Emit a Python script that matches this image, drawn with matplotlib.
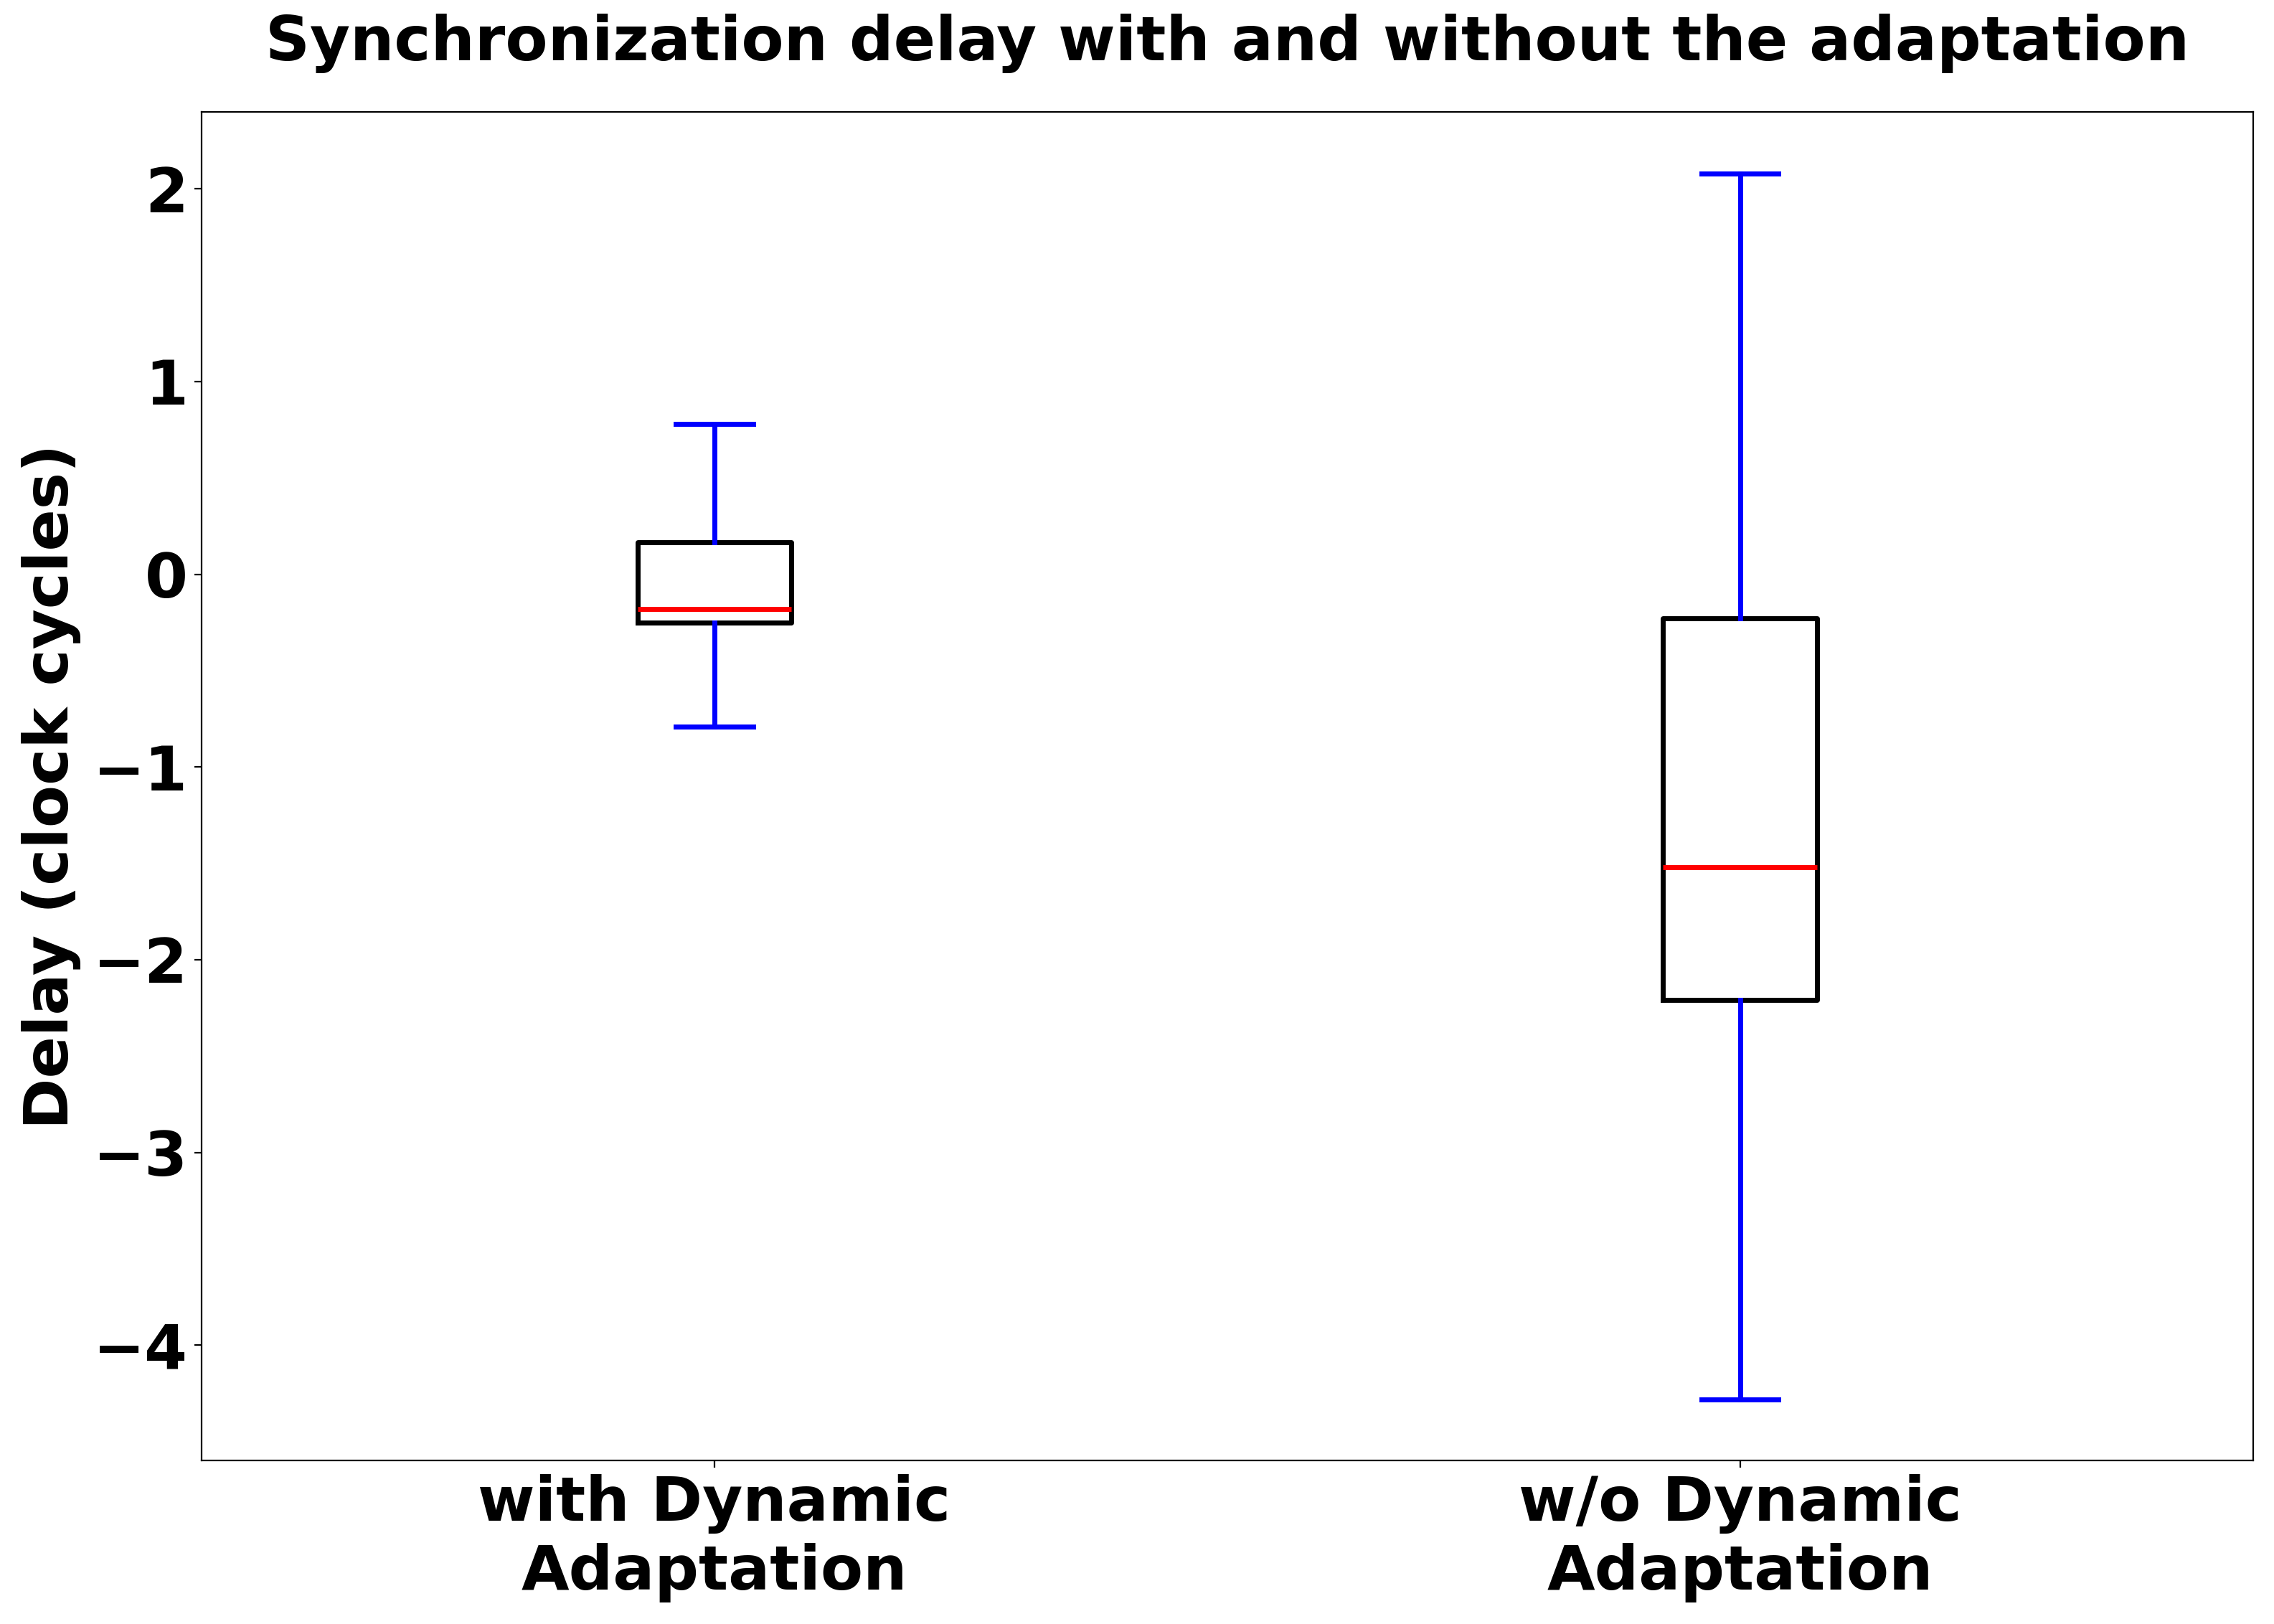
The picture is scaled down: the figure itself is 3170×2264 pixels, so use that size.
import matplotlib
matplotlib.use('Agg')
import matplotlib.pyplot as plt

# box statistics (clock cycles)
labels = ['with Dynamic\nAdaptation', 'w/o Dynamic\nAdaptation']
whislo = [-0.79, -4.28]
q1 = [-0.25, -2.21]
med = [-0.18, -1.52]
q3 = [0.165, -0.23]
whishi = [0.78, 2.08]

stats = []
for i in range(len(labels)):
    stats.append({'label': labels[i], 'whislo': whislo[i], 'q1': q1[i], 'med': med[i],
                  'q3': q3[i], 'whishi': whishi[i], 'fliers': []})

fs = 31
plt.rcParams['font.weight'] = 'bold'
plt.rcParams['font.size'] = fs

fig = plt.figure(figsize=(15.85, 11.32), dpi=200)
ax = fig.add_axes([0.0887, 0.1007, 0.902, 0.8303])

ax.bxp(stats, showfliers=False,
       boxprops=dict(color='black', linewidth=2.5),
       whiskerprops=dict(color='blue', linewidth=2.5),
       capprops=dict(color='blue', linewidth=2.5),
       medianprops=dict(color='red', linewidth=2.5))

ax.set_title('Synchronization delay with and without the adaptation', fontsize=fs,
             fontweight='bold', pad=26)
ax.set_ylabel('Delay (clock cycles)', fontsize=fs, fontweight='bold', labelpad=6)
ax.tick_params(labelsize=fs)
for lab in ax.get_xticklabels() + ax.get_yticklabels():
    lab.set_fontweight('bold')

fig.savefig('out.png', dpi=200)
